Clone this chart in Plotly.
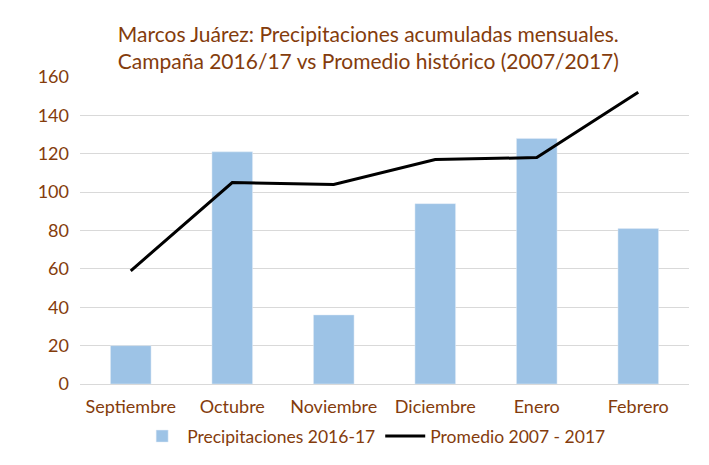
import plotly.graph_objects as go

months = ["Septiembre", "Octubre", "Noviembre", "Diciembre", "Enero", "Febrero"]
precip_2016_17 = [20, 121, 36, 94, 128, 81]
promedio_2007_2017 = [59, 105, 104, 117, 118, 152]
y_ticks = [0, 20, 40, 60, 80, 100, 120, 140, 160]

txt = "#843C0C"
font_family = "Lato, 'Open Sans', sans-serif"

fig = go.Figure()
fig.add_trace(go.Bar(x=months, y=precip_2016_17, name="Precipitaciones 2016-17",
                     marker_color="#9DC3E6", width=0.4))
fig.add_trace(go.Scatter(x=months, y=promedio_2007_2017, name="Promedio 2007 - 2017",
                         mode="lines", line=dict(color="black", width=3)))

fig.update_layout(
    width=701, height=457,
    margin=dict(l=72, r=20, t=69, b=81, autoexpand=False),
    paper_bgcolor="white", plot_bgcolor="white",
    font=dict(family=font_family, color=txt, size=17),
    title=dict(text="Marcos Juárez: Precipitaciones acumuladas mensuales.<br>Campaña 2016/17 vs Promedio histórico (2007/2017)",
               x=0.514, xanchor="center", y=0.926, yanchor="middle",
               font=dict(size=21, color=txt, family=font_family)),
    showlegend=True,
    legend=dict(orientation="h", x=0.483, xanchor="center", y=-0.17, yanchor="middle",
                font=dict(size=17.5, color=txt), traceorder="normal", itemwidth=40),
    bargap=0.6,
)
fig.update_xaxes(showgrid=False, showline=False, ticks="", automargin=False,
                 ticklabelstandoff=10, tickfont=dict(size=18, color=txt))
fig.update_yaxes(range=[0, 160], tickvals=y_ticks, showgrid=True, gridcolor="#D9D9D9",
                 gridwidth=1, zeroline=True, zerolinecolor="#D9D9D9", zerolinewidth=1,
                 ticks="", ticklen=0, automargin=False, ticklabelstandoff=10,
                 tickfont=dict(size=18, color=txt))
fig.write_html("out.html")
